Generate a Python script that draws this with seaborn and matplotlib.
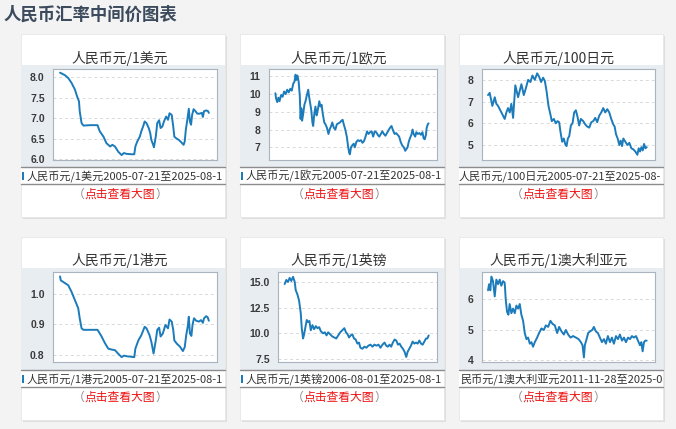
import matplotlib
matplotlib.use("Agg")
import matplotlib.pyplot as plt
from matplotlib.patches import Rectangle
import pandas as pd
import seaborn as sns

W, H = 676, 429

# values (x = fractional year)
usd_t = [2005.55, 2006.2, 2006.65, 2007.1, 2007.55, 2007.85, 2008.1, 2008.2, 2008.45, 2008.7,
         2009.6, 2010.6, 2010.9, 2011.4, 2011.8, 2012.3, 2012.6, 2012.95, 2013.4, 2013.85,
         2014.15, 2014.5, 2015.2, 2015.55, 2015.7, 2015.95, 2016.3, 2016.5, 2016.75, 2016.95,
         2017.2, 2017.5, 2017.7, 2017.85, 2018.1, 2018.2, 2018.45, 2018.65, 2018.9, 2019.1,
         2019.35, 2019.55, 2019.85, 2020.1, 2020.3, 2020.6, 2020.8, 2020.95, 2021.2, 2021.55,
         2021.9, 2022.2, 2022.35, 2022.5, 2022.7, 2022.9, 2023.05, 2023.2, 2023.35, 2023.55,
         2023.8, 2024.05, 2024.35, 2024.65, 2024.8, 2024.95, 2025.25, 2025.5, 2025.6]
usd_v = [8.11, 8.05, 7.98, 7.86, 7.70, 7.53, 7.41, 7.17, 6.88, 6.82,
         6.83, 6.83, 6.68, 6.55, 6.39, 6.31, 6.35, 6.31, 6.18, 6.10,
         6.15, 6.13, 6.12, 6.12, 6.31, 6.43, 6.55, 6.68, 6.80, 6.92,
         6.88, 6.76, 6.64, 6.47, 6.35, 6.29, 6.55, 6.88, 6.95, 6.76,
         6.80, 6.92, 7.04, 6.96, 7.12, 7.08, 6.80, 6.55, 6.51, 6.47,
         6.41, 6.35, 6.43, 6.72, 6.96, 7.23, 6.92, 6.84, 7.08, 7.22,
         7.17, 7.11, 7.11, 7.13, 7.03, 7.17, 7.19, 7.17, 7.13]

eur_t = [2005.55, 2005.65, 2005.8, 2005.95, 2006.1, 2006.3, 2006.5, 2006.7, 2006.9, 2007.1,
         2007.3, 2007.5, 2007.7, 2007.9, 2008.05, 2008.2, 2008.3, 2008.45, 2008.6, 2008.75,
         2008.85, 2008.95, 2009.05, 2009.2, 2009.35, 2009.5, 2009.65, 2009.85, 2009.95, 2010.1,
         2010.25, 2010.4, 2010.5, 2010.65, 2010.8, 2010.95, 2011.1, 2011.3, 2011.45, 2011.6,
         2011.75, 2011.95, 2012.1, 2012.3, 2012.5, 2012.65, 2012.85, 2013.0, 2013.2, 2013.4,
         2013.6, 2013.8, 2014.0, 2014.2, 2014.35, 2014.5, 2014.7, 2014.9, 2015.05, 2015.2,
         2015.3, 2015.45, 2015.6, 2015.8, 2015.95, 2016.15, 2016.35, 2016.55, 2016.75, 2016.95,
         2017.15, 2017.35, 2017.55, 2017.75, 2017.95, 2018.15, 2018.35, 2018.55, 2018.75, 2018.95,
         2019.15, 2019.35, 2019.55, 2019.75, 2019.95, 2020.15, 2020.35, 2020.55, 2020.75, 2020.95,
         2021.15, 2021.35, 2021.55, 2021.75, 2021.95, 2022.15, 2022.35, 2022.55, 2022.7, 2022.85,
         2023.0, 2023.15, 2023.35, 2023.5, 2023.65, 2023.85, 2024.0, 2024.2, 2024.4, 2024.6,
         2024.8, 2024.95, 2025.1, 2025.25, 2025.35, 2025.5, 2025.6]
eur_v = [10.05, 9.75, 9.55, 9.8, 9.6, 9.95, 9.85, 10.15, 10.0, 10.25,
         10.1, 10.3, 10.2, 10.6, 10.7, 11.1, 10.8, 11.05, 10.7, 9.9,
         8.6, 9.2, 8.5, 8.9, 9.4, 9.6, 9.9, 10.25, 9.9, 9.5,
         9.1, 8.4, 8.2, 8.9, 9.3, 8.8, 9.1, 9.6, 9.3, 9.4,
         8.9, 8.4, 8.3, 8.1, 7.75, 8.0, 8.2, 8.4, 8.1, 8.0,
         8.3, 8.35, 8.4, 8.5, 8.55, 8.3, 8.0, 7.6, 7.1, 6.7,
         6.6, 7.0, 7.1, 7.2, 7.0, 7.3, 7.4, 7.35, 7.4, 7.25,
         7.35, 7.6, 7.9, 7.75, 7.85, 7.9, 7.6, 7.9, 7.85, 7.7,
         7.6, 7.75, 7.9, 7.75, 7.65, 7.8, 7.95, 8.1, 8.2, 7.95,
         7.75, 7.8, 7.7, 7.6, 7.3, 7.1, 7.0, 6.8, 6.9, 7.0,
         7.3, 7.5, 7.7, 8.0, 7.75, 7.6, 7.85, 7.75, 7.8, 7.7,
         7.85, 7.5, 7.45, 7.7, 8.1, 8.3, 8.35]

jpy_t = [2005.55, 2005.76, 2006.1, 2006.4, 2006.6, 2006.82, 2007.24, 2007.66, 2007.87, 2008.08,
         2008.3, 2008.5, 2008.72, 2009.0, 2009.35, 2009.56, 2009.77, 2010.07, 2010.32, 2010.62,
         2010.91, 2011.16, 2011.46, 2011.76, 2012.0, 2012.26, 2012.51, 2012.73, 2012.94, 2013.19,
         2013.44, 2013.61, 2013.87, 2014.12, 2014.33, 2014.54, 2014.71, 2014.92, 2015.13, 2015.3,
         2015.47, 2015.64, 2015.81, 2016.02, 2016.23, 2016.44, 2016.65, 2016.86, 2017.07, 2017.28,
         2017.58, 2017.83, 2018.09, 2018.34, 2018.6, 2018.85, 2019.1, 2019.35, 2019.6, 2019.86,
         2020.11, 2020.36, 2020.62, 2020.87, 2021.12, 2021.38, 2021.55, 2021.72, 2021.93, 2022.14,
         2022.31, 2022.48, 2022.65, 2022.9, 2023.16, 2023.41, 2023.66, 2023.91, 2024.17, 2024.42,
         2024.59, 2024.76, 2024.93, 2025.1, 2025.27, 2025.44, 2025.6]
jpy_v = [7.3, 7.4, 6.8, 7.2, 6.9, 6.8, 6.5, 6.2, 6.5, 6.7,
         6.5, 6.9, 6.25, 7.75, 7.2, 7.5, 7.8, 7.3, 7.6, 8.0,
         7.9, 8.2, 8.0, 8.3, 8.15, 7.9, 8.1, 7.95, 7.5, 6.8,
         6.4, 6.1, 6.2, 6.0, 6.1, 6.05, 5.6, 5.15, 5.3, 5.05,
         4.95, 5.3, 5.4, 5.9, 6.0, 6.5, 6.6, 6.3, 5.9, 6.2,
         6.1, 5.95, 5.85, 5.8, 6.05, 6.1, 6.25, 6.05, 6.35, 6.5,
         6.7, 6.5, 6.65, 6.5, 6.2, 5.95, 5.85, 5.5, 5.3, 5.0,
         5.2, 4.95, 5.3, 5.15, 5.0, 5.1, 4.85, 4.8, 4.7, 4.55,
         4.85, 4.7, 4.9, 4.75, 5.05, 4.85, 4.9]

hkd_t = [2005.55, 2005.65, 2006.2, 2006.65, 2007.1, 2007.55, 2008.0, 2008.2, 2008.45, 2008.7,
         2010.6, 2011.15, 2011.6, 2012.05, 2012.5, 2012.95, 2013.4, 2013.85, 2014.15, 2014.5,
         2015.55, 2015.7, 2016.1, 2016.5, 2016.95, 2017.2, 2017.6, 2017.85, 2018.15, 2018.45,
         2018.65, 2018.9, 2019.1, 2019.4, 2019.75, 2020.1, 2020.3, 2020.6, 2020.8, 2020.95,
         2021.3, 2021.7, 2022.1, 2022.35, 2022.55, 2022.75, 2022.9, 2023.05, 2023.25, 2023.4,
         2023.6, 2023.9, 2024.25, 2024.55, 2024.8, 2024.95, 2025.25, 2025.45, 2025.6]
hkd_v = [1.058, 1.045, 1.036, 1.029, 1.007, 0.980, 0.953, 0.920, 0.887, 0.882,
         0.882, 0.860, 0.838, 0.820, 0.817, 0.815, 0.803, 0.792, 0.797, 0.795,
         0.792, 0.820, 0.847, 0.864, 0.892, 0.887, 0.865, 0.843, 0.804, 0.847,
         0.882, 0.889, 0.860, 0.870, 0.898, 0.887, 0.916, 0.909, 0.882, 0.847,
         0.836, 0.827, 0.812, 0.825, 0.864, 0.892, 0.925, 0.870, 0.862, 0.898,
         0.920, 0.912, 0.909, 0.914, 0.905, 0.920, 0.927, 0.923, 0.912]

gbp_t = [2006.58, 2006.8, 2007.02, 2007.24, 2007.46, 2007.69, 2007.91, 2008.04, 2008.26, 2008.48,
         2008.7, 2008.84, 2009.01, 2009.15, 2009.32, 2009.5, 2009.68, 2009.85, 2010.03, 2010.25,
         2010.47, 2010.7, 2010.92, 2011.14, 2011.36, 2011.67, 2011.89, 2012.11, 2012.33, 2012.6,
         2012.86, 2013.13, 2013.39, 2013.66, 2013.92, 2014.19, 2014.46, 2014.68, 2014.9, 2015.08,
         2015.3, 2015.52, 2015.74, 2015.96, 2016.18, 2016.4, 2016.58, 2016.85, 2017.11, 2017.38,
         2017.64, 2017.91, 2018.17, 2018.44, 2018.7, 2018.97, 2019.23, 2019.5, 2019.77, 2019.99,
         2020.21, 2020.43, 2020.65, 2020.87, 2021.1, 2021.32, 2021.54, 2021.76, 2021.98, 2022.2,
         2022.42, 2022.64, 2022.82, 2023.04, 2023.26, 2023.48, 2023.7, 2023.93, 2024.15, 2024.37,
         2024.59, 2024.81, 2025.03, 2025.25, 2025.43, 2025.6]
gbp_v = [14.8, 15.2, 15.0, 15.4, 15.1, 15.5, 15.0, 14.2, 13.8, 13.2,
         12.0, 10.5, 9.5, 9.9, 10.6, 11.3, 11.1, 11.2, 10.3, 10.8,
         10.4, 10.7, 10.5, 10.6, 10.2, 10.0, 10.1, 9.8, 10.1, 9.9,
         9.7, 9.6, 9.5, 9.8, 10.1, 10.3, 10.5, 10.1, 9.9, 9.6,
         9.8, 9.9, 9.5, 9.4, 9.0, 9.1, 8.6, 8.5, 8.7, 8.6,
         8.8, 8.9, 8.7, 8.9, 8.8, 8.9, 8.6, 8.9, 9.1, 8.8,
         8.7, 8.9, 8.7, 9.1, 9.4, 9.3, 8.9, 9.0, 8.7, 8.5,
         8.2, 7.7, 8.2, 8.5, 8.8, 9.2, 9.0, 9.1, 9.0, 9.3,
         9.0, 8.9, 9.2, 9.5, 9.5, 9.8]

aud_t = [2011.9, 2011.99, 2012.1, 2012.19, 2012.33, 2012.48, 2012.62, 2012.77, 2012.91, 2013.05,
         2013.2, 2013.34, 2013.43, 2013.54, 2013.66, 2013.77, 2013.92, 2014.06, 2014.21, 2014.35,
         2014.5, 2014.64, 2014.78, 2014.93, 2015.07, 2015.22, 2015.36, 2015.51, 2015.65, 2015.79,
         2015.94, 2016.14, 2016.31, 2016.51, 2016.72, 2016.89, 2017.09, 2017.29, 2017.47, 2017.67,
         2017.87, 2018.04, 2018.25, 2018.45, 2018.62, 2018.82, 2019.02, 2019.25, 2019.49, 2019.72,
         2019.92, 2020.06, 2020.18, 2020.26, 2020.41, 2020.55, 2020.7, 2020.9, 2021.04, 2021.22,
         2021.39, 2021.56, 2021.74, 2021.91, 2022.08, 2022.25, 2022.43, 2022.6, 2022.77, 2022.95,
         2023.12, 2023.29, 2023.47, 2023.64, 2023.81, 2023.99, 2024.16, 2024.33, 2024.5, 2024.68,
         2024.85, 2025.02, 2025.14, 2025.25, 2025.37, 2025.48, 2025.6]
aud_v = [6.3, 6.5, 6.3, 6.75, 6.6, 6.1, 6.65, 6.5, 6.65, 6.45,
         6.6, 6.55, 6.0, 5.6, 5.5, 5.85, 5.55, 5.7, 5.55, 5.8,
         5.7, 5.85, 5.5, 5.3, 4.9, 4.7, 4.75, 4.55, 4.6, 4.45,
         4.6, 4.75, 4.9, 5.05, 5.0, 5.15, 5.1, 5.3, 5.2, 5.15,
         4.9, 5.1, 4.95, 4.85, 5.0, 4.85, 4.75, 4.8, 4.75, 4.7,
         4.6, 4.5, 4.1, 4.5, 4.7, 4.9, 4.95, 5.0, 5.1, 4.95,
         4.9, 4.75, 4.6, 4.7, 4.55, 4.8, 4.6, 4.75, 4.55, 4.8,
         4.7, 4.85, 4.65, 4.75, 4.6, 4.75, 4.7, 4.8, 4.75, 4.8,
         4.65, 4.5, 4.6, 4.3, 4.6, 4.65, 4.65]

titles = ["人民币元/1美元", "人民币元/1欧元", "人民币元/100日元",
          "人民币元/1港元", "人民币元/1英镑", "人民币元/1澳大利亚元"]
captions = ["人民币元/1美元2005-07-21至2025-08-1",
            "人民币元/1欧元2005-07-21至2025-08-1",
            "人民币元/100日元2005-07-21至2025-08-",
            "人民币元/1港元2005-07-21至2025-08-1",
            "人民币元/1英镑2006-08-01至2025-08-1",
            "民币元/1澳大利亚元2011-11-28至2025-08"]
yticks = [[6.0, 6.5, 7.0, 7.5, 8.0], [7, 8, 9, 10, 11], [5, 6, 7, 8],
          [0.8, 0.9, 1.0], [7.5, 10.0, 12.5, 15.0], [4, 5, 6]]
ytick_labels = [["6.0", "6.5", "7.0", "7.5", "8.0"], ["7", "8", "9", "10", "11"],
                ["5", "6", "7", "8"], ["0.8", "0.9", "1.0"],
                ["7.5", "10.0", "12.5", "15.0"], ["4", "5", "6"]]
series = [(usd_t, usd_v), (eur_t, eur_v), (jpy_t, jpy_v),
          (hkd_t, hkd_v), (gbp_t, gbp_v), (aud_t, aud_v)]

# layout (pixels)
card_x = [21, 240, 459]
card_y = [34, 237]
card_w, card_h = 204, 183
plot_boxes = [(53, 69, 217, 160), (269, 69, 437, 160), (482, 69, 655, 160),
              (53, 272, 217, 362), (278, 272, 437, 362), (482, 272, 655, 362)]
xlims = [(2004.6, 2026.7), (2004.72, 2026.7), (2004.79, 2026.65),
         (2004.6, 2026.7), (2005.7, 2026.7), (2011.38, 2026.32)]
ylims = [(5.98, 8.2), (6.28, 11.42), (4.31, 8.5),
         (0.776, 1.0725), (7.21, 15.97), (3.95, 6.9)]
caption_x = [27, 246, 459, 27, 246, 460]
bar_x = [22, 241, None, 22, 241, None]

LINE = "#1b7bbb"
CJK = ["Noto Sans CJK SC", "DejaVu Sans"]

sns.set_theme(style="white")
plt.rcParams["font.family"] = CJK

fig = plt.figure(figsize=(W / 100, H / 100), dpi=100, facecolor="#f3f3f3")
bg = fig.add_axes([0, 0, 1, 1])
bg.set_xlim(0, W)
bg.set_ylim(H, 0)
bg.axis("off")

bg.text(4, 15, "人民币汇率中间价图表", fontsize=12.5, fontweight="bold",
        color="#3b4a5c", va="center", ha="left")

link_fs = 8.5
ch = link_fs * 100 / 72  # width of one CJK char in px

for i in range(6):
    r, c = divmod(i, 3)
    cx, cy = card_x[c], card_y[r]
    # shadow + card
    bg.add_patch(Rectangle((cx + 2, cy + 2), card_w, card_h, fc="#dedede", ec="none"))
    card = Rectangle((cx, cy), card_w, card_h, fc="white", ec="#e6e6e6", lw=0.6)
    bg.add_patch(card)
    # grey band behind chart
    band_top = cy + 31
    bg.add_patch(Rectangle((cx, band_top), card_w, 102, fc="#e8edf2", ec="none"))
    mid = cx + card_w / 2 - 3
    bg.text(mid, cy + 24, titles[i], fontsize=10, color="#333333", ha="center", va="center")
    # legend strip
    ly0 = band_top + 102
    bg.plot([cx, cx + card_w], [ly0, ly0], color="#8c8c8c", lw=1)
    bg.plot([cx, cx + card_w], [ly0 + 17, ly0 + 17], color="#8c8c8c", lw=1)
    bg.add_patch(Rectangle((cx, ly0 + 0.5), card_w, 16.5, fc="white", ec="none"))
    if bar_x[i] is not None:
        bg.add_patch(Rectangle((bar_x[i], ly0 + 5), 2, 8, fc=LINE, ec="none"))
    t = bg.text(caption_x[i], ly0 + 9, captions[i], fontsize=8, color="#333333",
                ha="left", va="center", clip_on=True)
    t.set_clip_path(card)
    # link text
    x0 = mid - 4 * ch
    bg.text(x0, ly0 + 27, "（", fontsize=link_fs, color="#888888", ha="left", va="center")
    bg.text(x0 + ch, ly0 + 27, "点击查看大图", fontsize=link_fs, color="#ee1111",
            ha="left", va="center")
    bg.text(x0 + 7 * ch, ly0 + 27, "）", fontsize=link_fs, color="#888888", ha="left", va="center")

for i in range(6):
    x0, y0, x1, y1 = plot_boxes[i]
    ax = fig.add_axes([x0 / W, 1 - y1 / H, (x1 - x0) / W, (y1 - y0) / H])
    t, v = series[i]
    df = pd.DataFrame({"t": t, "v": v})
    sns.lineplot(data=df, x="t", y="v", ax=ax, color=LINE, lw=1.4, sort=False, estimator=None)
    ax.set_xlim(*xlims[i])
    ax.set_ylim(*ylims[i])
    ax.set_xticks([])
    ax.set_yticks(yticks[i])
    ax.set_yticklabels(ytick_labels[i], fontfamily="Liberation Sans", fontweight="bold")
    ax.tick_params(axis="y", length=0, pad=6, labelsize=7.5, labelcolor="#3a3a3a")
    ax.set_xlabel("")
    ax.set_ylabel("")
    ax.yaxis.grid(True, ls=(0, (3, 3)), color="#d9d9d9", lw=0.7)
    ax.set_facecolor("white")
    for s in ax.spines.values():
        s.set_color("#aab4be")
        s.set_linewidth(0.8)

fig.savefig("out.png", dpi=100, facecolor=fig.get_facecolor())
